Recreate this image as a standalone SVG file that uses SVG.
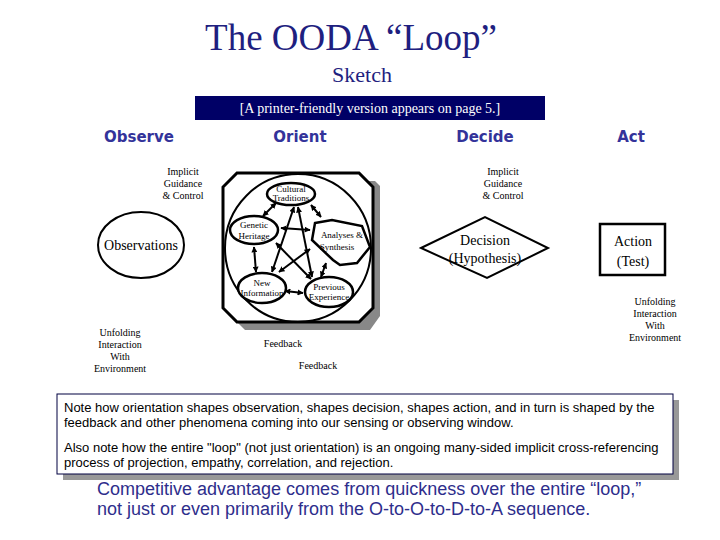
<svg xmlns="http://www.w3.org/2000/svg" width="720" height="540" viewBox="0 0 720 540">
<defs>
<style>
.title{font-family:"Liberation Serif",serif;fill:#1f1f80}
.hdr{font-family:"DejaVu Sans",sans-serif;font-weight:bold;font-size:15px;fill:#33339a;text-anchor:middle}
.sm{font-family:"Liberation Serif",serif;font-size:10px;fill:#000;text-anchor:middle}
.xs{font-family:"Liberation Serif",serif;font-size:9px;fill:#000;text-anchor:middle}
.md{font-family:"Liberation Serif",serif;font-size:14px;fill:#000;text-anchor:middle}
.note{font-family:"Liberation Sans",sans-serif;font-size:13px;fill:#000}
.comp{font-family:"Liberation Sans",sans-serif;font-size:18px;fill:#2e2e8c}
.shape{fill:#fff;stroke:#000;stroke-width:2.5}
.arr{stroke:#000;stroke-width:2;fill:none;marker-start:url(#ah);marker-end:url(#ah)}
</style>
<marker id="ah" viewBox="0 0 10 10" refX="9" refY="5" markerWidth="3" markerHeight="3" orient="auto-start-reverse">
<path d="M0,0 L10,5 L0,10 z" fill="#000"/>
</marker>
</defs>
<rect width="720" height="540" fill="#fff"/>
<g id="title">
<text class="title" x="351" y="50" font-size="37" text-anchor="middle">The OODA “Loop”</text>
<text class="title" x="362" y="82" font-size="22" text-anchor="middle">Sketch</text>
</g>
<g id="banner">
<rect x="195" y="96" width="350" height="24" fill="#000066"/>
<text x="370" y="113" font-family="Liberation Serif,serif" font-size="14" fill="#fff" text-anchor="middle">[A printer-friendly version appears on page 5.]</text>
</g>
<g id="headers">
<text class="hdr" x="139" y="142">Observe</text>
<text class="hdr" x="300" y="142">Orient</text>
<text class="hdr" x="485" y="142">Decide</text>
<text class="hdr" x="631" y="142">Act</text>
</g>
<g id="labels">
<text class="sm" x="183" y="175">Implicit</text>
<text class="sm" x="183" y="187">Guidance</text>
<text class="sm" x="183" y="199">&amp; Control</text>
<text class="sm" x="503" y="175">Implicit</text>
<text class="sm" x="503" y="187">Guidance</text>
<text class="sm" x="503" y="199">&amp; Control</text>
<text class="sm" x="120" y="336">Unfolding</text>
<text class="sm" x="120" y="348">Interaction</text>
<text class="sm" x="120" y="360">With</text>
<text class="sm" x="120" y="372">Environment</text>
<text class="sm" x="655" y="305">Unfolding</text>
<text class="sm" x="655" y="317">Interaction</text>
<text class="sm" x="655" y="329">With</text>
<text class="sm" x="655" y="341">Environment</text>
<text class="sm" x="283" y="347">Feedback</text>
<text class="sm" x="318" y="369">Feedback</text>
</g>
<g id="observations">
<ellipse cx="141" cy="245" rx="43" ry="33" fill="#fff" stroke="#000" stroke-width="2"/>
<text class="md" x="141" y="250" font-size="14.5">Observations</text>
</g>
<g id="orient">
<polygon points="245,181 375,181 380,186 380,316 370,330 245,330 231,316 231,195" fill="#888"/>
<polygon points="237,173 359,173 373,187 373,308 359,322 237,322 223,308 223,187" fill="#fff" stroke="#000" stroke-width="3"/>
<ellipse cx="298" cy="248" rx="73" ry="74" fill="none" stroke="#000" stroke-width="2"/>
</g>
<g id="connectors">
<line class="arr" x1="276" y1="203" x2="263" y2="216"/>
<line class="arr" x1="311" y1="205" x2="321" y2="217"/>
<line class="arr" x1="281" y1="228" x2="310" y2="230"/>
<line class="arr" x1="254" y1="247" x2="256" y2="272"/>
<line class="arr" x1="285" y1="291" x2="303" y2="293"/>
<line class="arr" x1="326" y1="263" x2="321" y2="277"/>
<line class="arr" x1="294" y1="207" x2="272" y2="272"/>
<line class="arr" x1="298" y1="207" x2="312" y2="277"/>
<line class="arr" x1="276" y1="243" x2="311" y2="279"/>
<line class="arr" x1="310" y1="249" x2="279" y2="272"/>
</g>
<g id="cultural">
<ellipse class="shape" cx="291" cy="194" rx="24" ry="11"/>
<text class="xs" x="291" y="192">Cultural</text>
<text class="xs" x="291" y="201">Traditions</text>
</g>
<g id="genetic">
<ellipse class="shape" cx="254" cy="230" rx="24" ry="14"/>
<text class="xs" x="254" y="228">Genetic</text>
<text class="xs" x="254" y="239">Heritage</text>
</g>
<g id="analyses">
<polygon class="shape" points="315,223 332,220 362,226 370,247 357,263 340,265 333,260 312,240"/>
<text class="xs" x="342" y="238" font-size="10">Analyses &amp;</text>
<text class="xs" x="337" y="250" font-size="10">Synthesis</text>
</g>
<g id="newinfo">
<ellipse class="shape" cx="262" cy="288" rx="24" ry="15"/>
<text class="xs" x="262" y="286">New</text>
<text class="xs" x="262" y="296">Information</text>
</g>
<g id="previous">
<ellipse class="shape" cx="329" cy="292" rx="24" ry="15"/>
<text class="xs" x="329" y="290">Previous</text>
<text class="xs" x="329" y="300">Experience</text>
</g>
<g id="decision">
<polygon points="421,248 485,217 548,248 487,278" fill="#fff" stroke="#000" stroke-width="2"/>
<text class="md" x="485" y="245">Decision</text>
<text class="md" x="485" y="263">(Hypothesis)</text>
</g>
<g id="action">
<rect x="600" y="224" width="65" height="51" fill="#fff" stroke="#000" stroke-width="2.5"/>
<text class="md" x="633" y="246">Action</text>
<text class="md" x="633" y="266">(Test)</text>
</g>
<g id="note">
<rect x="63" y="400" width="616" height="80" fill="#999"/>
<rect x="57" y="394" width="616" height="80" fill="#fff" stroke="#000040" stroke-width="1"/>
<text class="note" x="64" y="412">Note how orientation shapes observation, shapes decision, shapes action, and in turn is shaped by the</text>
<text class="note" x="64" y="427">feedback and other phenomena coming into our sensing or observing window.</text>
<text class="note" x="64" y="452">Also note how the entire "loop" (not just orientation) is an ongoing many-sided implicit cross-referencing</text>
<text class="note" x="64" y="467">process of projection, empathy, correlation, and rejection.</text>
</g>
<g id="competitive">
<text class="comp" x="97" y="495">Competitive advantage comes from quickness over the entire “loop,”</text>
<text class="comp" x="97" y="515">not just or even primarily from the O-to-O-to-D-to-A sequence.</text>
</g>
</svg>
